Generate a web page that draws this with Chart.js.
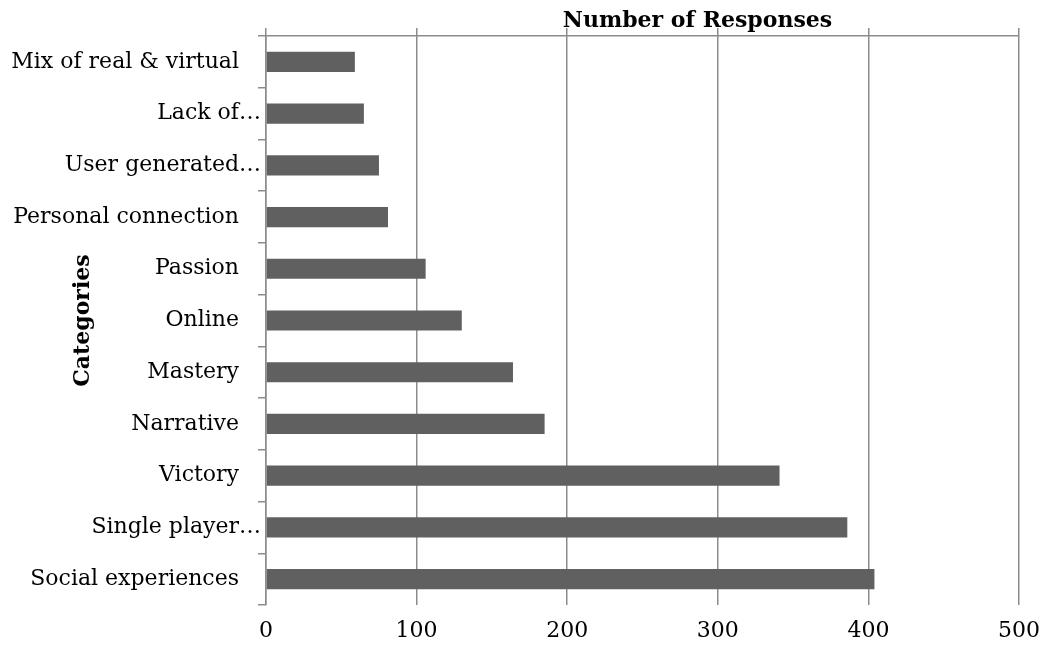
<!DOCTYPE html>
<html>
<head>
<meta charset="utf-8">
<script src="https://cdn.jsdelivr.net/npm/chart.js@4.4.0/dist/chart.umd.min.js"></script>
<style>
  html, body { margin: 0; padding: 0; background: #fff; }
  #wrap { width: 1045px; height: 653px; position: relative; }
</style>
</head>
<body>
<div id="wrap"><canvas id="chart"></canvas></div>
<script>
'use strict';

// categories, top to bottom as drawn
const categories = [
  'Mix of real & virtual',
  'Lack of…',
  'User generated…',
  'Personal connection',
  'Passion',
  'Online',
  'Mastery',
  'Narrative',
  'Victory',
  'Single player…',
  'Social experiences'
];
const responses = [59, 65, 75, 81, 106, 130, 164, 185, 341, 386, 404];
const xTicks = [0, 100, 200, 300, 400, 500];

const xTitle = 'Number of Responses';
const yTitle = 'Categories';

const GRID = '#8c8c8c';
const BAR = '#606060';

Chart.defaults.font.family = "'DejaVu Serif', serif";
Chart.defaults.font.size = 22;
Chart.defaults.color = '#000';

const ctx = document.getElementById('chart').getContext('2d');
new Chart(ctx, {
  type: 'bar',
  data: {
    labels: categories,
    datasets: [{
      label: xTitle,
      data: responses,
      backgroundColor: BAR,
      borderWidth: 0,
      barPercentage: 0.39,
      categoryPercentage: 1
    }]
  },
  options: {
    indexAxis: 'y',
    responsive: true,
    maintainAspectRatio: false,
    animation: false,
    layout: { padding: { top: 0, right: 26, bottom: 0, left: 0 } },
    plugins: { legend: { display: false }, tooltip: { enabled: false } },
    scales: {
      x: {
        position: 'bottom',
        min: xTicks[0],
        max: xTicks[xTicks.length - 1],
        afterBuildTicks: s => { s.ticks = xTicks.map(v => ({ value: v })); },
        ticks: { padding: 13.5 },
        grid: { color: GRID, lineWidth: 1.5, drawTicks: false },
        border: { display: false },
        afterFit: s => { s.height = 48; s.paddingRight = 0; s.paddingLeft = 0; }
      },
      x2: {
        type: 'linear',
        position: 'top',
        min: xTicks[0],
        max: xTicks[xTicks.length - 1],
        afterBuildTicks: s => { s.ticks = xTicks.map(v => ({ value: v })); },
        ticks: { display: false },
        grid: { color: GRID, lineWidth: 1.5, drawOnChartArea: false, drawTicks: true, tickLength: 8 },
        border: { display: true, color: GRID, width: 1.5 },
        title: {
          display: true,
          // nudged right like the original axis title
          text: '\u2003\u2003\u2003\u2003\u2003' + xTitle,
          font: { weight: 'bold', size: 22, lineHeight: 1 },
          padding: { top: 10, bottom: 0 }
        },
        afterFit: s => { s.height = 36; s.paddingRight = 0; s.paddingLeft = 0; }
      },
      y: {
        position: 'left',
        ticks: {
          padding: -3,
          autoSkip: false,
          // full labels sit further from the axis than the clipped ones
          callback: function (v) {
            const t = this.getLabelForValue(v);
            return t.endsWith('…') ? t : t + '\u2003';
          }
        },
        grid: { color: GRID, lineWidth: 1.5, drawOnChartArea: false, drawTicks: true, tickLength: 8, offset: true },
        border: { display: true, color: GRID, width: 1.5 },
        title: {
          display: true,
          text: yTitle,
          font: { weight: 'bold', size: 22, lineHeight: 1 },
          padding: { top: 72, bottom: 0 }
        },
        afterFit: s => { s.width = 266; s.paddingTop = 0; s.paddingBottom = 0; }
      }
    }
  }
});
</script>
</body>
</html>
